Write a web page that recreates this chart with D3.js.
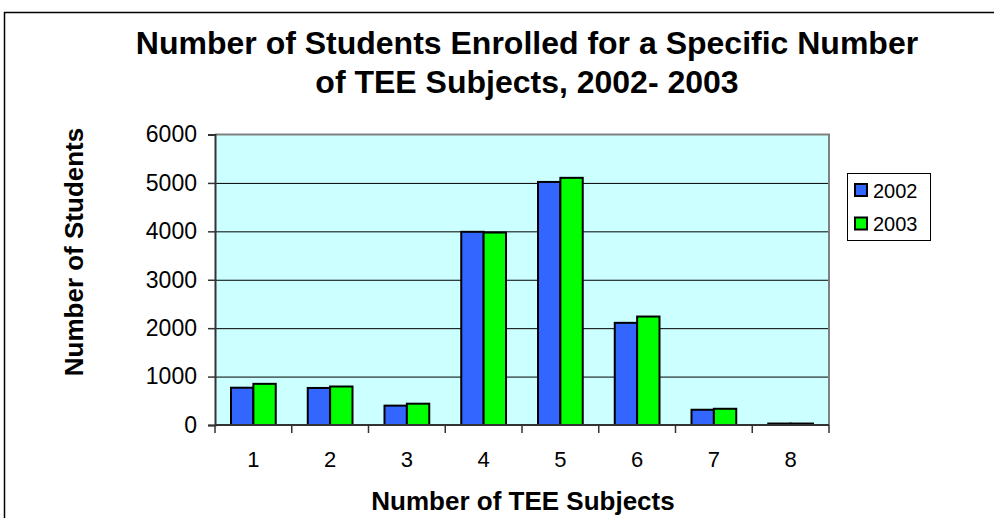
<!DOCTYPE html>
<html>
<head>
<meta charset="utf-8">
<script src="https://cdn.jsdelivr.net/npm/d3@7/dist/d3.min.js"></script>
<style>
  html, body { margin: 0; padding: 0; background: #ffffff; }
  svg { display: block; }
  text { font-family: "Liberation Sans", Arial, sans-serif; fill: #000; }
</style>
</head>
<body>
<svg id="chart" width="994" height="518"></svg>
<script>
// Number of TEE subjects each student enrolled for
const categories = ["1", "2", "3", "4", "5", "6", "7", "8"];
const seriesNames = ["2002", "2003"];
const values2002 = [770, 765, 400, 3990, 5020, 2110, 315, 30];
const values2003 = [850, 795, 440, 3975, 5105, 2240, 335, 30];
const yTicks = [0, 1000, 2000, 3000, 4000, 5000, 6000];
const titleLines = ["Number of Students Enrolled for a Specific Number", "of TEE Subjects, 2002- 2003"];
const xTitle = "Number of TEE Subjects";
const yTitle = "Number of Students";

const colors = { "2002": "#3366FF", "2003": "#00FF00" };
const seriesValues = { "2002": values2002, "2003": values2003 };

const svg = d3.select("#chart");

// Outer chart frame (top and left edges visible)
svg.append("path")
  .attr("d", "M4.5,518 V12.5 H994")
  .attr("fill", "none")
  .attr("stroke", "#000")
  .attr("stroke-width", 1.5);

const plot = { left: 215, right: 829, top: 134.5, bottom: 425 };

const x0 = d3.scaleBand()
  .domain(categories)
  .range([plot.left, plot.right])
  .paddingInner(0.417)
  .paddingOuter(0.2085);

const x1 = d3.scaleBand()
  .domain(seriesNames)
  .range([0, x0.bandwidth()]);

const y = d3.scaleLinear()
  .domain([0, 6000])
  .range([plot.bottom, plot.top]);

// Plot area background
svg.append("rect")
  .attr("x", plot.left).attr("y", plot.top)
  .attr("width", plot.right - plot.left)
  .attr("height", plot.bottom - plot.top)
  .attr("fill", "#CCFFFF");

// Horizontal gridlines
svg.append("g")
  .selectAll("line")
  .data(yTicks.filter(d => d > 0 && d < 6000))
  .join("line")
  .attr("x1", plot.left).attr("x2", plot.right)
  .attr("y1", d => y(d) + 0.5).attr("y2", d => y(d) + 0.5)
  .attr("stroke", "#000")
  .attr("stroke-width", 1);

// Plot border: grey top and right edges
svg.append("path")
  .attr("d", `M${plot.left},${plot.top} H${plot.right} V${plot.bottom}`)
  .attr("fill", "none")
  .attr("stroke", "#808080")
  .attr("stroke-width", 2);

// Bars
const groups = svg.append("g")
  .selectAll("g")
  .data(categories)
  .join("g")
  .attr("transform", d => `translate(${x0(d)},0)`);

groups.selectAll("rect")
  .data((d, i) => seriesNames.map(s => ({ series: s, value: seriesValues[s][i] })))
  .join("rect")
  .attr("x", d => x1(d.series))
  .attr("y", d => y(d.value))
  .attr("width", x1.bandwidth())
  .attr("height", d => y(0) - y(d.value))
  .attr("fill", d => colors[d.series])
  .attr("stroke", "#000")
  .attr("stroke-width", 2);

// Y axis
const yAxis = svg.append("g")
  .attr("transform", `translate(${plot.left},0)`)
  .call(d3.axisLeft(y).tickValues(yTicks).tickSize(7).tickPadding(11).tickFormat(d3.format("d")));
yAxis.select(".domain").attr("stroke", "#333").attr("stroke-width", 2);
yAxis.selectAll(".tick line").attr("stroke", "#333").attr("stroke-width", 1.5);
yAxis.selectAll(".tick text")
  .style("font-family", "'Liberation Sans', Arial, sans-serif")
  .style("font-size", "23px")
  .attr("fill", "#000");

// X axis: ticks at category boundaries, labels at category centres
const xAxisG = svg.append("g")
  .attr("transform", `translate(0,${plot.bottom})`);
xAxisG.append("line")
  .attr("x1", plot.left).attr("x2", plot.right)
  .attr("y1", 0).attr("y2", 0)
  .attr("stroke", "#333").attr("stroke-width", 2);
const boundaries = categories.map(c => x0(c) - x0.step() * x0.paddingOuter())
  .concat([plot.right]);
xAxisG.selectAll("line.tick")
  .data(boundaries)
  .join("line")
  .attr("class", "tick")
  .attr("x1", d => d).attr("x2", d => d)
  .attr("y1", 0).attr("y2", 8)
  .attr("stroke", "#333").attr("stroke-width", 1.5);
xAxisG.selectAll("text")
  .data(categories)
  .join("text")
  .attr("x", d => x0(d) + x0.bandwidth() / 2)
  .attr("y", 42)
  .attr("text-anchor", "middle")
  .style("font-size", "22px")
  .text(d => d);

// Title
svg.append("text")
  .attr("text-anchor", "middle")
  .style("font-size", "32px")
  .style("font-weight", "bold")
  .selectAll("tspan")
  .data(titleLines)
  .join("tspan")
  .attr("x", 527)
  .attr("y", (d, i) => 54 + i * 39)
  .text(d => d);

// Axis titles
svg.append("text")
  .attr("x", 523).attr("y", 510)
  .attr("text-anchor", "middle")
  .style("font-size", "26px")
  .style("font-weight", "bold")
  .text(xTitle);

svg.append("text")
  .attr("transform", "translate(83,252) rotate(-90)")
  .attr("text-anchor", "middle")
  .style("font-size", "26px")
  .style("font-weight", "bold")
  .text(yTitle);

// Legend
const legend = svg.append("g");
legend.append("rect")
  .attr("x", 847.5).attr("y", 173.5)
  .attr("width", 83).attr("height", 67)
  .attr("fill", "#fff")
  .attr("stroke", "#000")
  .attr("stroke-width", 1);
const items = legend.selectAll("g.item")
  .data(seriesNames)
  .join("g")
  .attr("class", "item")
  .attr("transform", (d, i) => `translate(855,${184 + i * 33.5})`);
items.append("rect")
  .attr("width", 12).attr("height", 12)
  .attr("fill", d => colors[d])
  .attr("stroke", "#000")
  .attr("stroke-width", 2);
items.append("text")
  .attr("x", 18).attr("y", 13.5)
  .style("font-size", "20px")
  .text(d => d);
</script>
</body>
</html>
